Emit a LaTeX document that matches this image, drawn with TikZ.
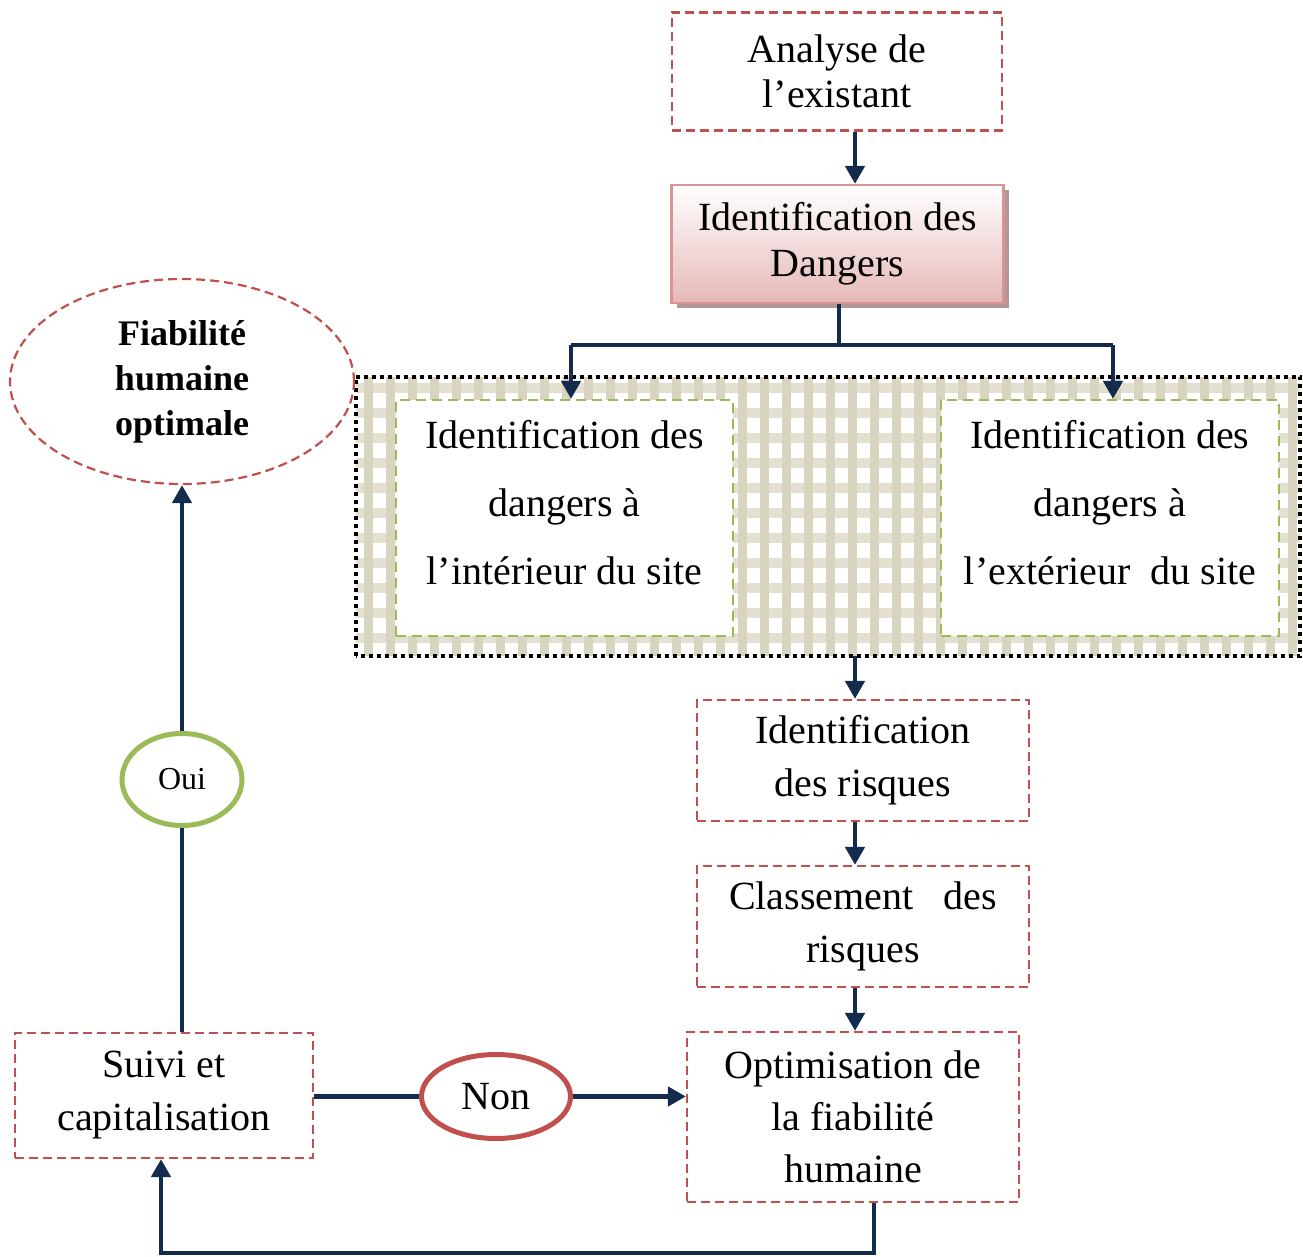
\documentclass[tikz,border=0pt]{standalone}
\usepackage{fontspec}
\setmainfont{Liberation Serif}
\usetikzlibrary{arrows.meta,shapes.geometric,shadows,calc}
\definecolor{navy}{HTML}{132B4C}
\definecolor{redd}{HTML}{C0504D}
\definecolor{greenb}{HTML}{9BBB59}
\definecolor{pinkb}{HTML}{D99594}
\definecolor{pinkf}{HTML}{E5B8B7}
\definecolor{shad}{HTML}{B49696}
\definecolor{patbar}{HTML}{D9D4C0}
\definecolor{patband}{HTML}{E3DFD1}
\newcommand\myfs[2]{\fontsize{#1}{#2}\selectfont}
\tikzset{
 redbox/.style={draw=redd, line width=1.1pt, dash pattern=on 4.5pt off 2.5pt, inner sep=0pt, align=center, fill=white},
 greenbox/.style={draw=greenb, line width=1.1pt, dash pattern=on 5pt off 3pt, fill=white, inner sep=0pt},
 conn/.style={draw=navy, line width=2.3pt},
 arr/.style={conn, -{Triangle[length=9pt,width=9.5pt]}},
 txt/.style={align=center, inner sep=0pt},
}
\begin{document}
\begin{tikzpicture}[x=0.5pt,y=-0.5pt]
\useasboundingbox[fill=white] (0,0) rectangle (1303,1257);
% helper coordinates
\coordinate (cx) at (855,0);
\coordinate (split) at (839,345);
\coordinate (lx) at (571,0);
\coordinate (rx) at (1113,0);
\coordinate (loopx) at (874,0);
\coordinate (loopy) at (0,1253);
\coordinate (sx) at (161,0);

% top boxes
\node[redbox, minimum width=165pt, minimum height=59pt, font=\myfs{20}{22.5}] (ana) at (837,71.5) {Analyse de\\l’existant};
\node[draw=pinkb, line width=1.1pt, inner sep=0pt, align=center, top color=white, bottom color=pinkf,
      drop shadow={shadow xshift=2.5pt, shadow yshift=-2.5pt, fill=shad, opacity=1},
      minimum width=166pt, minimum height=59pt, font=\myfs{20}{23}] (dan) at (837.5,244) {Identification des\\Dangers};

% pattern zone
\path (828,516.5) node[minimum width=472pt, minimum height=139.5pt, inner sep=0pt] (zone) {};
\begin{scope}
\clip (zone.south west) rectangle (zone.north east);
\fill[white] (zone.south west) rectangle (zone.north east);
\foreach \y in {383,408,...,660} \fill[patband] (356,\y) rectangle ++(944,10);
\foreach \x in {364,386,...,1300} \fill[patbar] (\x,377) rectangle ++(9,279);
\end{scope}
\draw[black, line width=2pt, dash pattern=on 2pt off 2pt] (zone.south west) rectangle (zone.north east);

\node[greenbox, minimum width=168.5pt, minimum height=118pt] (il) at (564.5,518) {};
\node[greenbox, minimum width=169pt, minimum height=118pt] (ir) at (1110,518) {};
\node[txt, font=\myfs{20}{34}] (ilt) at (564.5,503) {Identification des\\dangers à\\l’intérieur du site};
\node[txt, font=\myfs{20}{34}] (irt) at (1110,503) {Identification des\\dangers à\\l’extérieur\ \ du site};

% right column
\node[redbox, minimum width=166pt, minimum height=60.5pt, font=\myfs{20}{26.5}] (ris) at (863,760.5) {Identification\\des risques};
\node[redbox, minimum width=166pt, minimum height=60.5pt, font=\myfs{20}{26.5}] (cla) at (863,926.5) {Classement\hspace{0.75em}des\\risques};
\node[redbox, minimum width=166pt, minimum height=85pt, font=\myfs{20}{26}] (opt) at (853,1117) {Optimisation de\\la fiabilité\\humaine};

% left column
\node[redbox, minimum width=149pt, minimum height=62.5pt, font=\myfs{20}{26.5}] (sui) at (164,1095.5) {Suivi et\\capitalisation};
\node[ellipse, draw=redd, line width=1.1pt, dash pattern=on 4.5pt off 2.5pt, inner sep=0pt, align=center, fill=white,
      minimum width=172pt, minimum height=102.5pt, font=\bfseries\myfs{18}{22.5}] (fia) at (182,381.5) {Fiabilité\\humaine\\optimale};
\node[ellipse, draw=greenb, line width=2.5pt, inner sep=0pt, fill=white,
      minimum width=60pt, minimum height=46pt, font=\myfs{16}{18}] (oui) at (182,779.5) {Oui};
\node[ellipse, draw=redd, line width=2.5pt, inner sep=0pt, fill=white,
      minimum width=74.5pt, minimum height=42pt, font=\myfs{20}{22}] (non) at (496,1096.5) {Non};

% connectors
\draw[arr] (ana.south -| cx) -- (dan.north -| cx);
\draw[conn] (dan.south -| split) -- (split);
\draw[conn] (split) -| (lx |- split);
\draw[conn] (split) -| (rx |- split);
\draw[arr] (lx |- split) -- (il.north -| lx);
\draw[arr] (rx |- split) -- (ir.north -| rx);
\draw[arr] (zone.south -| cx) -- (ris.north -| cx);
\draw[arr] (ris.south -| cx) -- (cla.north -| cx);
\draw[arr] (cla.south -| cx) -- (opt.north -| cx);
\draw[conn] (non.west -| sui.east) -- (non.west);
\draw[arr] (non.east) -- (non.east -| opt.west);
\draw[arr] (opt.south -| loopx) -- (loopx |- loopy) -| (sui.south -| sx);
\draw[conn] (oui.south |- sui.north) -- (oui.south);
\draw[arr] (oui.north) -- (fia.south);
\end{tikzpicture}
\end{document}
